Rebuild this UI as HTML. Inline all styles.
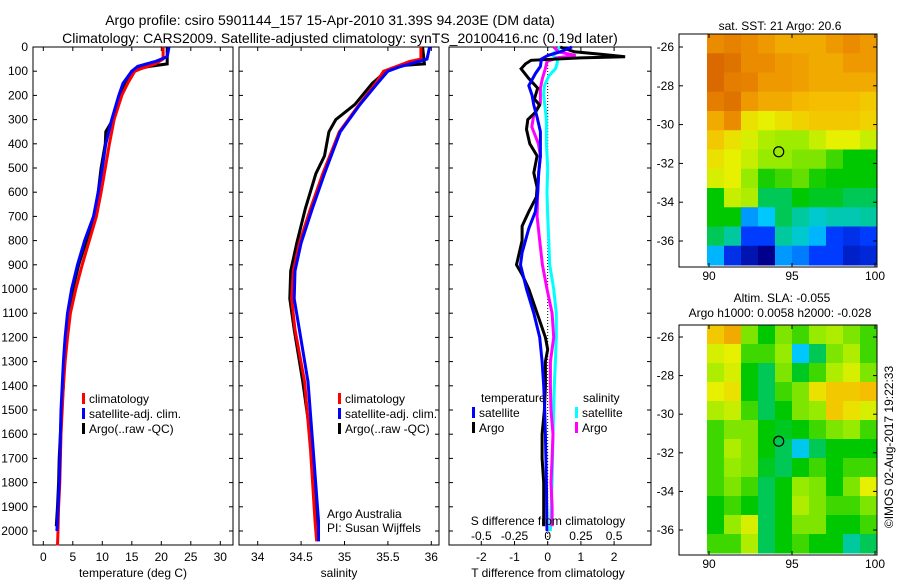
<!DOCTYPE html>
<html><head><meta charset="utf-8"><style>
body{margin:0;background:#fff;}
svg{display:block;font-family:"Liberation Sans",sans-serif;}
</style></head><body>
<svg id="fig" width="900" height="580" viewBox="0 0 900 580" xmlns="http://www.w3.org/2000/svg">
<rect width="900" height="580" fill="#fff"/>
<text x="330" y="25" font-size="14" text-anchor="middle">Argo profile: csiro 5901144_157 15-Apr-2010 31.39S 94.203E (DM data)</text>
<text x="340" y="43" font-size="14" text-anchor="middle">Climatology: CARS2009. Satellite-adjusted climatology: synTS_20100416.nc (0.19d later)</text>
<g id="g"></g>
</svg>
<script>
// depth levels (m) and profiles
const tDepth = [0,50,70,90,100,150,200,300,400,500,600,700,800,900,1000,1100,1200,1300,1400,1500,1600,1700,1800,1900,2000,2060];
const tClim = [20.3,20.3,19,16.5,15.5,14.3,13.3,12,11.2,10.5,9.8,9,7.8,6.6,5.5,4.6,4.1,3.7,3.4,3.2,3.0,2.9,2.8,2.6,2.5,2.4];
const tSatDepth = [0,40,60,80,100,150,200,300,400,500,600,700,800,900,1000,1100,1200,1300,1400,1500,1600,1700,1800,1900,2000];
const tSat = [21.3,21,19,16,15,13.5,12.8,11.6,10.6,10,9.3,8.5,7,5.8,4.8,4.1,3.7,3.4,3.2,3.0,2.9,2.8,2.7,2.5,2.3];
const tArgoDepth = [0,70,80,90,100,150,200,300,350,400,500,600,700,800,900,1000,1100,1200,1300,1400,1500,1600,1700,1800,1900,1980];
const tArgo = [21,21,18,16,15,13.8,13,11.8,10.6,10.5,9.8,9.3,8.6,7.3,6.0,5.0,4.2,3.8,3.6,3.4,3.1,2.9,2.7,2.6,2.4,2.2];

const sDepth = [0,50,60,80,100,150,237,351,523,667,810,925,1040,1168,1383,1670,1957,2043];
const sClim = [35.88,35.88,35.75,35.6,35.45,35.36,35.17,34.94,34.75,34.61,34.48,34.41,34.39,34.43,34.54,34.61,34.66,34.68];
const sSat = [35.98,35.95,35.85,35.65,35.5,35.38,35.18,34.95,34.77,34.63,34.5,34.43,34.42,34.48,34.58,34.64,34.7,34.7];
const sArgoDepth = [0,70,75,90,100,150,237,300,351,450,523,667,810,925,1040,1168,1383,1670,1957,1980];
const sArgo = [35.9,35.92,35.7,35.55,35.48,35.32,35.12,34.9,34.82,34.77,34.67,34.55,34.45,34.38,34.37,34.42,34.52,34.63,34.68,34.68];

const dTArgoDepth = [0,20,30,40,45,55,70,90,130,170,215,240,270,300,340,400,450,520,580,620,680,740,800,900,940,1000,1100,1200,1250,1300,1400,1500,1600,1700,1800,1900,1980];
const dTArgo = [0.38,0.8,1.6,2.33,0.98,-0.5,-0.67,-0.8,-0.57,-0.3,-0.4,-0.24,-0.37,-0.6,-0.64,-0.54,-0.32,-0.42,-0.32,-0.34,-0.57,-0.77,-0.77,-0.94,-0.77,-0.57,-0.32,-0.07,0,-0.07,-0.07,-0.1,-0.17,-0.17,-0.12,-0.12,-0.12];
const dTSatDepth = [0,20,35,50,80,110,160,200,240,290,350,450,520,600,680,750,850,900,1000,1100,1200,1300,1400,1500,1600,1800,2000];
const dTSat = [0.73,0.38,0,-0.19,-0.22,-0.37,-0.57,-0.47,-0.42,-0.32,-0.22,-0.22,-0.27,-0.3,-0.37,-0.57,-0.77,-0.82,-0.64,-0.42,-0.24,-0.17,-0.12,-0.09,-0.07,-0.04,-0.02];
const dSSatDepth = [0,20,30,50,70,90,120,160,200,300,400,500,600,700,800,900,1000,1100,1200,1300,1400,1500,1600,1800,2000];
const dSSat = [0.09,0.06,0.03,0.075,0.07,0.058,0.008,-0.025,-0.03,-0.01,-0.01,0,-0.005,0,0.008,0.015,0.045,0.065,0.065,0.058,0.05,0.045,0.04,0.033,0.02];
const dSArgoDepth = [0,20,35,45,60,90,130,170,230,280,330,400,450,520,600,700,800,900,1000,1100,1200,1300,1400,1500,1600,1700,1800,1900,1980];
const dSArgo = [0.045,0.08,0.21,0.07,-0.005,-0.018,-0.04,-0.055,-0.055,-0.105,-0.12,-0.07,-0.055,-0.068,-0.075,-0.08,-0.06,-0.04,-0.005,0.033,0.045,0.02,0.02,0.025,0.04,0.033,0.025,0.033,0.033];

const depthTicks = [0,100,200,300,400,500,600,700,800,900,1000,1100,1200,1300,1400,1500,1600,1700,1800,1900,2000];
const tempTicks = [0,5,10,15,20,25,30];
const salTicks = [34,34.5,35,35.5,36];
const dTTicks = [-2,-1,0,1,2];
const dSTicks = [-0.5,-0.25,0,0.25,0.5];
const dSTickLabels = ['-0.5','-0.25','0','0.25','0.5'];
const latTicks = [-26,-28,-30,-32,-34,-36];
const lonTicks = [90,95,100];

const sstGrid = [
[.9,.92,.9,.88,.85,.85,.85,.88,.9,.88],
[.97,.95,.9,.9,.88,.87,.85,.85,.88,.88],
[.97,.93,.92,.88,.88,.87,.85,.85,.85,.85],
[.93,.95,.88,.85,.85,.83,.82,.82,.82,.8],
[.85,.9,.75,.72,.75,.78,.8,.8,.8,.78],
[.8,.75,.7,.65,.63,.63,.68,.72,.72,.68],
[.75,.72,.68,.62,.62,.6,.6,.55,.5,.5],
[.7,.72,.62,.52,.55,.58,.52,.5,.5,.5],
[.5,.68,.65,.45,.45,.5,.48,.48,.45,.45],
[.5,.5,.25,.3,.45,.4,.35,.38,.38,.4],
[.45,.4,.15,.15,.4,.35,.28,.15,.12,.15],
[.28,.12,.05,0,.25,.22,.15,.15,.08,.1]];
const slaGrid = [
[.8,.85,.6,.5,.6,.55,.62,.65,.6,.55],
[.7,.72,.55,.55,.62,.3,.45,.6,.65,.55],
[.65,.7,.5,.45,.6,.48,.55,.65,.7,.6],
[.72,.75,.5,.45,.55,.6,.75,.8,.8,.82],
[.65,.68,.55,.45,.5,.6,.62,.8,.75,.7],
[.55,.6,.6,.5,.48,.5,.55,.6,.62,.55],
[.55,.65,.6,.5,.45,.32,.45,.5,.5,.5],
[.55,.62,.6,.48,.45,.5,.55,.5,.55,.55],
[.55,.6,.55,.45,.5,.62,.6,.5,.6,.72],
[.5,.55,.5,.45,.5,.65,.6,.55,.55,.6],
[.5,.62,.7,.45,.5,.6,.6,.5,.5,.55],
[.55,.55,.65,.45,.5,.55,.5,.5,.4,.45]];
const argoLon = 94.2, argoLat = -31.4;

const NS='http://www.w3.org/2000/svg';
const G=document.getElementById('g');
function mk(tag,attrs,parent){const e=document.createElementNS(NS,tag);for(const k in attrs)e.setAttribute(k,attrs[k]);(parent||G).appendChild(e);return e;}
function txt(x,y,s,anchor,size,parent){const e=mk('text',{x:x,y:y,'font-size':size||12,'text-anchor':anchor||'start'},parent);e.textContent=s;return e;}

const TOP=47, BOT=545;
const yD = d => TOP + d*0.242;
const xT = t => 43.3 + t*5.9;
const xS = s => 257.7 + (s-34)*86.8;
const xDT = v => 547.7 + v*33.2;
const xDS = v => 547.7 + v*132.8;

function frame(x0,x1,name){
  const r=mk('rect',{x:x0,y:TOP,width:x1-x0,height:BOT-TOP,fill:'none',stroke:'#000','stroke-width':1});
  
  
  depthTicks.forEach(d=>{mk('line',{x1:x0,x2:x0+4,y1:yD(d),y2:yD(d),stroke:'#000'});mk('line',{x1:x1,x2:x1-4,y1:yD(d),y2:yD(d),stroke:'#000'});});
}
function line(ds,vs,fx,color,name){
  const p=mk('polyline',{points:ds.map((d,i)=>fx(vs[i]).toFixed(1)+','+yD(d).toFixed(1)).join(' '),fill:'none',stroke:color,'stroke-width':3});
  
  
}
function xticks(ticks,fx,x0,x1,labels){
  ticks.forEach((t,i)=>{const x=fx(t);mk('line',{x1:x,x2:x,y1:BOT,y2:BOT-4,stroke:'#000'});mk('line',{x1:x,x2:x,y1:TOP,y2:TOP+4,stroke:'#000'});
    const l=txt(x,561,labels?labels[i]:String(t),'middle');
    
    });
}
function legend(x,y,color,label){
  mk('rect',{x:x,y:y-10,width:3,height:11,fill:color});
  const l=txt(x+7,y,label);
  
  
}

// Panel 1 temperature
frame(33,233,'temperature-panel');
depthTicks.forEach(d=>{const l=txt(28,yD(d)+4,String(d),'end');
  
  });
xticks(tempTicks,xT);
line(tArgoDepth,tArgo,xT,'#000','temp-argo-line');
line(tDepth,tClim,xT,'#f00','temp-climatology-line');
line(tSatDepth,tSat,xT,'#00f','temp-satellite-line');
let a=txt(133,577,'temperature (deg C)','middle');
legend(82,403,'#f00','climatology');legend(82,418,'#00f','satellite-adj. clim.');legend(82,433,'#000','Argo(..raw -QC)');

// Panel 2 salinity
frame(239,439,'salinity-panel');
xticks(salTicks,xS);
line(sArgoDepth,sArgo,xS,'#000','sal-argo-line');
line(sDepth,sClim,xS,'#f00','sal-climatology-line');
line(sDepth,sSat,xS,'#00f','sal-satellite-line');
a=txt(339,577,'salinity','middle');
legend(338,403,'#f00','climatology');legend(338,418,'#00f','satellite-adj. clim.');legend(338,433,'#000','Argo(..raw -QC)');
a=txt(327,518,'Argo Australia');
a=txt(327,532,'PI: Susan Wijffels');

// Panel 3 differences
frame(449,651,'difference-panel');
xticks(dTTicks,xDT);
mk('line',{x1:xDT(0),x2:xDT(0),y1:TOP,y2:BOT,stroke:'#000','stroke-dasharray':'1,2'});
line(dSSatDepth,dSSat,xDS,'#0ff','sal-diff-satellite-line');
line(dSArgoDepth,dSArgo,xDS,'#f0f','sal-diff-argo-line');
line(dTArgoDepth,dTArgo,xDT,'#000','temp-diff-argo-line');
line(dTSatDepth,dTSat,xDT,'#00f','temp-diff-satellite-line');
a=txt(548,577,'T difference from climatology','middle');
a=txt(548,525,'S difference from climatology','middle');
dSTicks.forEach((t,i)=>{const l=txt(xDS(t),540,dSTickLabels[i],'middle');});
a=txt(481,402,'temperature');
a=txt(583,402,'salinity');
legend(472,417,'#00f','satellite');legend(472,432,'#000','Argo');
legend(575,417,'#0ff','satellite');legend(575,432,'#f0f','Argo');

// Maps
const cmapStops=[[0,[0,0,140]],[0.15,[0,60,255]],[0.3,[0,200,255]],[0.42,[0,200,140]],[0.5,[0,200,0]],[0.62,[150,235,0]],[0.72,[230,240,0]],[0.82,[245,190,0]],[0.9,[235,140,0]],[1,[210,90,0]]];
function cmap(v){
  for(let i=1;i<cmapStops.length;i++){
    if(v<=cmapStops[i][0]){
      const a0=cmapStops[i-1][0],c0=cmapStops[i-1][1],a1=cmapStops[i][0],c1=cmapStops[i][1];
      const f=(v-a0)/(a1-a0);
      return 'rgb('+c0.map((c,k)=>Math.round(c+(c1[k]-c)*f)).join(',')+')';
    }
  }
  return 'rgb(210,90,0)';
}
function map(grid,ax0,ay0,ax1,ay1,lat26y,lat36y,name){
  const lonX=lon=>709+(lon-90)*16.6;
  const latY=lat=>lat26y+(-26-lat)*(lat36y-lat26y)/10;
  const ix0=707,ix1=877,iy0=ay0,iy1=ay1-2;
  const rows=grid.length,cols=grid[0].length;
  const cw=(ix1-ix0)/cols,ch=(iy1-iy0)/rows;
  grid.forEach((row,r)=>row.forEach((v,c)=>{
    const cell=mk('rect',{x:(ix0+c*cw).toFixed(2),y:(iy0+r*ch).toFixed(2),width:(cw+0.5).toFixed(2),height:(ch+0.5).toFixed(2),fill:cmap(v)});
    
    
  }));
  const f=mk('rect',{x:ax0,y:ay0,width:ax1-ax0,height:ay1-ay0,fill:'none',stroke:'#000'});
  
  
  latTicks.forEach(l=>{const y=latY(l);mk('line',{x1:ax0,x2:ax0+4,y1:y,y2:y,stroke:'#000'});mk('line',{x1:ax1,x2:ax1-4,y1:y,y2:y,stroke:'#000'});
    const t=txt(674,y+4,String(l),'end');});
  lonTicks.forEach(l=>{const x=lonX(l);mk('line',{x1:x,x2:x,y1:ay1,y2:ay1-4,stroke:'#000'});mk('line',{x1:x,x2:x,y1:ay0,y2:ay0+4,stroke:'#000'});
    const t=txt(x,ay1+13,String(l),'middle');});
  const m=mk('circle',{cx:lonX(argoLon),cy:latY(argoLat),r:5,fill:'none',stroke:'#000','stroke-width':1.2});
  
  
}
map(sstGrid,679,34,877,267,47,241,'sst-map');
map(slaGrid,679,325,877,555,337,530,'sla-map');
a=txt(780,30,'sat. SST: 21 Argo: 20.6','middle');
a=txt(782,302,'Altim. SLA: -0.055','middle');
a=txt(780,317,'Argo h1000: 0.0058 h2000: -0.028','middle');
a=txt(0,0,'©IMOS 02-Aug-2017 19:22:33','middle');a.setAttribute('transform','translate(893,447) rotate(-90)');

</script>
</body></html>
